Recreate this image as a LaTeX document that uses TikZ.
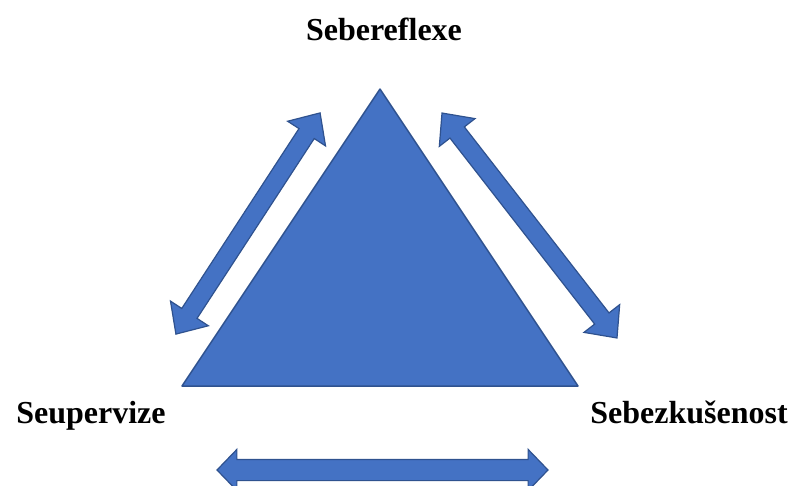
\documentclass[tikz,border=0pt]{standalone}
\usepackage{fontspec}
\setmainfont{Liberation Serif}
\usetikzlibrary{shapes.arrows}
\definecolor{triblue}{HTML}{4472C4}
\definecolor{edgeblue}{HTML}{2F528F}
\begin{document}
\begin{tikzpicture}[
        x=1pt, y=-1pt,
        tri/.style={fill=triblue, draw=edgeblue, line width=1.5pt, line join=round},
        twoway/.style={double arrow, fill=triblue, draw=edgeblue, line width=1.2pt,
            inner xsep=0pt, inner ysep=8.5pt, minimum width=0pt,
            double arrow head extend=13.5pt, double arrow tip angle=85},
        corner/.style={font=\fontsize{32}{38}\selectfont\bfseries, anchor=base}
    ]
        \useasboundingbox (0,0) rectangle (790,485);
        % triangle corners
        \coordinate (top) at (380,89);
        \coordinate (left) at (182,386);
        \coordinate (right) at (578,386);
        \draw[tri] (top) -- (left) -- (right) -- cycle;
        % two-way arrows along the sides
        \coordinate (la) at (176,334);
        \coordinate (lb) at (320,113);
        \coordinate (ra) at (442,113);
        \coordinate (rb) at (617,338);
        \coordinate (ba) at (217,470);
        \coordinate (bb) at (548,470);
        \path (la) -- (lb) node[twoway, midway, sloped, minimum height=264pt] (leftarrow) {};
        \path (ra) -- (rb) node[twoway, midway, sloped, minimum height=285pt] (rightarrow) {};
        \path (ba) -- (bb) node[twoway, midway, sloped, minimum height=331pt,
            inner ysep=10pt, double arrow head extend=10pt, double arrow tip angle=92] (bottomarrow) {};
        % labels
        \node[corner] (reflexe) at (384,40) {Sebereflexe};
        \node[corner] (supervize) at (91,423) {Seupervize};
        \node[corner] (zkusenost) at (689,423) {Sebezkušenost};
\end{tikzpicture}
\end{document}
